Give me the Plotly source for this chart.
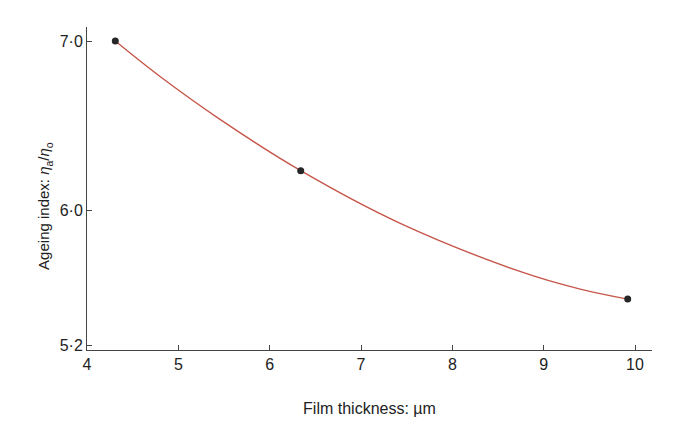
import plotly.graph_objects as go

# Measured points: film thickness (µm) vs ageing index
thickness = [4.31, 6.34, 9.92]
ageing_index = [7.0, 6.233, 5.473]

# Points
curve_thickness = [4.31, 4.80, 5.46, 6.34, 7.43, 8.74, 9.40, 9.92]
curve_index = [7.0, 6.79, 6.535, 6.233, 5.921, 5.637, 5.532, 5.473]

x_ticks = [4, 5, 6, 7, 8, 9, 10]
y_ticks = [5.2, 6.0, 7.0]
y_tick_text = ["5·2", "6·0", "7·0"]

font_family = "Liberation Sans, Arial, sans-serif"

fig = go.Figure()
fig.add_trace(go.Scatter(
    x=curve_thickness, y=curve_index, mode="lines",
    line=dict(color="#c6564a", width=1.4, shape="spline", smoothing=1.0),
    hoverinfo="skip", showlegend=False,
))
fig.add_trace(go.Scatter(
    x=thickness, y=ageing_index, mode="markers",
    marker=dict(color="#262626", size=7),
    showlegend=False,
))

fig.update_layout(
    width=688, height=429,
    margin=dict(l=87, r=36, t=27, b=79),
    paper_bgcolor="white", plot_bgcolor="white",
    font=dict(family=font_family, size=16, color="#222222"),
)
fig.update_xaxes(
    range=[4, 10.186], tickvals=x_ticks, ticktext=[str(v) for v in x_ticks],
    showline=True, linecolor="#444444", linewidth=1,
    ticks="inside", ticklen=5, tickcolor="#444444",
    showgrid=False, zeroline=False,
    tickfont=dict(size=16),
    title=dict(text="Film thickness: µm", standoff=30, font=dict(size=16)),
)
fig.update_yaxes(
    range=[5.172, 7.083], tickvals=y_ticks, ticktext=y_tick_text,
    showline=True, linecolor="#444444", linewidth=1,
    ticks="inside", ticklen=5, tickcolor="#444444",
    showgrid=False, zeroline=False,
    tickfont=dict(size=16),
)

# y-axis title placed as a rotated annotation, slightly below the plot centre
fig.add_annotation(
    text="Ageing index: <i>η</i><sub>a</sub>/<i>η</i><sub>o</sub>",
    xref="paper", yref="paper", x=-0.075, y=0.445,
    xanchor="center", yanchor="middle", textangle=-90,
    showarrow=False, font=dict(size=15, family=font_family, color="#222222"),
)

fig.write_html("out.html")
